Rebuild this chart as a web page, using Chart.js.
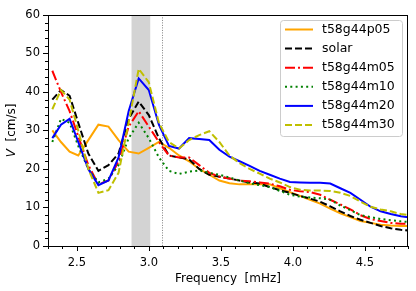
<!DOCTYPE html>
<html>
<head>
<meta charset="utf-8">
<script src="https://cdn.jsdelivr.net/npm/chart.js@4/dist/chart.umd.min.js"></script>
<style>html,body{margin:0;padding:0;background:#fff;}canvas{display:block;}</style>
</head>
<body>
<canvas id="c" width="416" height="291"></canvas>
<script>
const freqs = [2.33, 2.39, 2.45, 2.51, 2.58, 2.65, 2.72, 2.79, 2.86, 2.93, 3.00, 3.07, 3.14, 3.21, 3.28, 3.35, 3.42, 3.49, 3.56, 3.63, 3.70, 3.77, 3.84, 3.91, 3.98, 4.05, 4.12, 4.19, 4.26, 4.33, 4.40, 4.47, 4.54, 4.61, 4.68, 4.75, 4.82];
const t58g44p05 = [30, 27, 24.5, 23.5, 27.5, 31.5, 31, 27.5, 24.5, 24, 25.5, 27, 25.5, 23.5, 22, 20, 18.5, 17, 16.3, 16, 16, 16, 16, 15, 14, 13, 12, 11, 9.7, 8.5, 7.5, 6.5, 6, 5.5, 5.3, 5.2, 5.2];
const solar = [38, 40.5, 39, 32, 24, 19.5, 21, 24, 33, 37.5, 34, 28, 23.5, 23, 22.5, 20, 18.5, 18, 17.5, 17, 16.5, 16.2, 15.3, 14.5, 13.8, 13, 12.3, 11.5, 10.3, 9, 7.8, 6.8, 6, 5.2, 4.6, 4.2, 4];
const t58g44m05 = [45.5, 40, 35, 28.5, 21, 16, 17, 22, 31, 35, 31, 27, 23.5, 23, 23, 21, 19, 18, 17.5, 17, 16.8, 16.5, 16.2, 15.5, 14.6, 14.2, 14, 13.3, 12, 10.8, 9.5, 8, 7, 6.5, 6, 5.8, 5.7];
const t58g44m10 = [27, 33, 32, 26, 20, 16.5, 17.5, 21, 28, 32, 28, 23, 19.5, 18.7, 19.3, 19.6, 19, 18.5, 17.8, 17, 16.3, 15.8, 15.3, 14.3, 13.3, 12.8, 12.6, 12.4, 12, 10.5, 9.3, 8, 7.5, 7, 6.7, 6.4, 6.2];
const t58g44m20 = [28, 31.5, 33, 27, 20, 15.8, 17, 23, 35, 43.5, 40.5, 31.5, 26, 25.3, 28, 27.8, 27.5, 25, 23.2, 22, 20.8, 19.5, 18.5, 17.5, 16.6, 16.5, 16.4, 16.4, 16.2, 15, 13.8, 12, 10.2, 9, 8.3, 7.7, 7.4];
const t58g44m30 = [35.5, 40.5, 38, 30, 20, 13.8, 14.5, 19, 32, 46, 42.5, 32, 27, 25.3, 27.5, 28.8, 29.8, 27, 23.5, 21.5, 20, 18.8, 17.5, 16.5, 15.3, 14.6, 14.4, 14.4, 14.3, 13.8, 13, 11.5, 10.2, 9.5, 9, 8.3, 8];
const seriesNames = ["t58g44p05", "solar", "t58g44m05", "t58g44m10", "t58g44m20", "t58g44m30"];
const xTickLabels = [2.5, 3.0, 3.5, 4.0, 4.5];
const yTickLabels = [0, 10, 20, 30, 40, 50, 60];
const bandRange = [2.88, 3.01];
const vLineFreq = 3.09;

const seriesData = [t58g44p05, solar, t58g44m05, t58g44m10, t58g44m20, t58g44m30];
const styles = [
  {color: '#ffa500', dash: []},
  {color: '#000000', dash: [7, 3]},
  {color: '#ff0000', dash: [10, 3, 2, 3]},
  {color: '#008000', dash: [2, 3.3]},
  {color: '#0000ff', dash: []},
  {color: '#bfbf00', dash: [7, 3]}
];
const FONT = "'DejaVu Sans', sans-serif";

const datasets = seriesNames.map((name, i) => ({
  label: name,
  data: freqs.map((f, j) => ({x: f, y: seriesData[i][j]})),
  borderColor: styles[i].color,
  borderDash: styles[i].dash,
  borderWidth: 2,
  pointRadius: 0,
  tension: 0,
  fill: false,
  order: seriesNames.length - i
}));

const decor = {
  id: 'decor',
  beforeDatasetsDraw(chart) {
    const {ctx, chartArea: a, scales: {x}} = chart;
    ctx.save();
    ctx.beginPath(); ctx.rect(a.left, a.top, a.right - a.left, a.bottom - a.top); ctx.clip();
    const x0 = x.getPixelForValue(bandRange[0]), x1 = x.getPixelForValue(bandRange[1]);
    ctx.fillStyle = '#d3d3d3';
    ctx.fillRect(x0, a.top, x1 - x0, a.bottom - a.top);
    const xv = Math.round(x.getPixelForValue(vLineFreq)) + 0.5;
    ctx.strokeStyle = '#808080'; ctx.lineWidth = 1; ctx.setLineDash([1, 1.5]);
    ctx.beginPath(); ctx.moveTo(xv, a.top); ctx.lineTo(xv, a.bottom); ctx.stroke();
    ctx.restore();
  },
  afterDraw(chart) {
    const {ctx, chartArea: a, scales: {x, y}} = chart;
    ctx.save();
    ctx.strokeStyle = '#000'; ctx.lineWidth = 1; ctx.setLineDash([]);
    ctx.strokeRect(Math.round(a.left) + 0.5, Math.round(a.top) + 0.5, Math.round(a.right - a.left) - 1, Math.round(a.bottom - a.top));
    ctx.beginPath();
    for (let k = 23; k <= 48; k++) {
      const v = k / 10;
      const px = Math.round(x.getPixelForValue(v)) + 0.5;
      const len = (k % 5 === 0) ? 5 : 3;
      ctx.moveTo(px, a.bottom); ctx.lineTo(px, a.bottom + len);
    }
    for (let v = 0; v <= 60; v += 2) {
      const py = Math.round(y.getPixelForValue(v)) + 0.5;
      const len = (v % 10 === 0) ? 5 : 3;
      ctx.moveTo(a.left, py); ctx.lineTo(a.left - len, py);
    }
    ctx.stroke();
    ctx.translate(12, (a.top + a.bottom) / 2);
    ctx.rotate(-Math.PI / 2);
    ctx.fillStyle = '#000';
    ctx.textBaseline = 'middle';
    const f1 = "italic 12px " + FONT, f2 = "12px " + FONT;
    ctx.font = f1; const w1 = ctx.measureText('V').width;
    ctx.font = f2; const t2 = '  [cm/s]'; const w2 = ctx.measureText(t2).width;
    let sx = -(w1 + w2) / 2;
    ctx.font = f1; ctx.textAlign = 'left'; ctx.fillText('V', sx, 0);
    ctx.font = f2; ctx.fillText(t2, sx + w1, 0);
    ctx.restore();
    ctx.save();
    const lx = 280, ly = 20, lw = 122, lh = 116;
    ctx.beginPath();
    ctx.roundRect(lx + 0.5, ly + 0.5, lw, lh, 3);
    ctx.fillStyle = 'rgba(255,255,255,0.8)'; ctx.fill();
    ctx.strokeStyle = '#cccccc'; ctx.lineWidth = 1; ctx.stroke();
    ctx.font = "12.5px " + FONT; ctx.textBaseline = 'middle'; ctx.textAlign = 'left';
    seriesNames.forEach((name, i) => {
      const ry = 29.5 + i * 19.1;
      ctx.strokeStyle = styles[i].color; ctx.lineWidth = 2; ctx.setLineDash(styles[i].dash);
      ctx.beginPath(); ctx.moveTo(285, ry); ctx.lineTo(313, ry); ctx.stroke();
      ctx.setLineDash([]);
      ctx.fillStyle = '#000'; ctx.fillText(name, 322, ry);
    });
    ctx.restore();
  }
};

new Chart(document.getElementById('c'), {
  type: 'line',
  data: {datasets},
  options: {
    responsive: false,
    animation: false,
    devicePixelRatio: 1,
    layout: {padding: {top: 13, right: 8, left: 0, bottom: 0}},
    plugins: {legend: {display: false}, tooltip: {enabled: false}},
    scales: {
      x: {
        type: 'linear', min: 2.3, max: 4.8,
        afterBuildTicks: s => { s.ticks = xTickLabels.map(v => ({value: v})); },
        afterFit: s => { s.height = 45; },
        grid: {display: false, drawTicks: false},
        border: {display: false},
        ticks: {padding: 10, color: '#000', font: {family: FONT, size: 11.5}, callback: v => Number(v).toFixed(1), maxRotation: 0, autoSkip: false},
        title: {display: true, text: 'Frequency  [mHz]', color: '#000', font: {family: FONT, size: 12}, padding: {top: 0, bottom: 5}}
      },
      y: {
        type: 'linear', min: 0, max: 60,
        afterBuildTicks: s => { s.ticks = yTickLabels.map(v => ({value: v})); },
        afterFit: s => { s.width = 48; },
        grid: {display: false, drawTicks: false},
        border: {display: false},
        ticks: {padding: 8, color: '#000', font: {family: FONT, size: 11.5}, autoSkip: false}
      }
    }
  },
  plugins: [decor]
});
</script>
</body>
</html>
